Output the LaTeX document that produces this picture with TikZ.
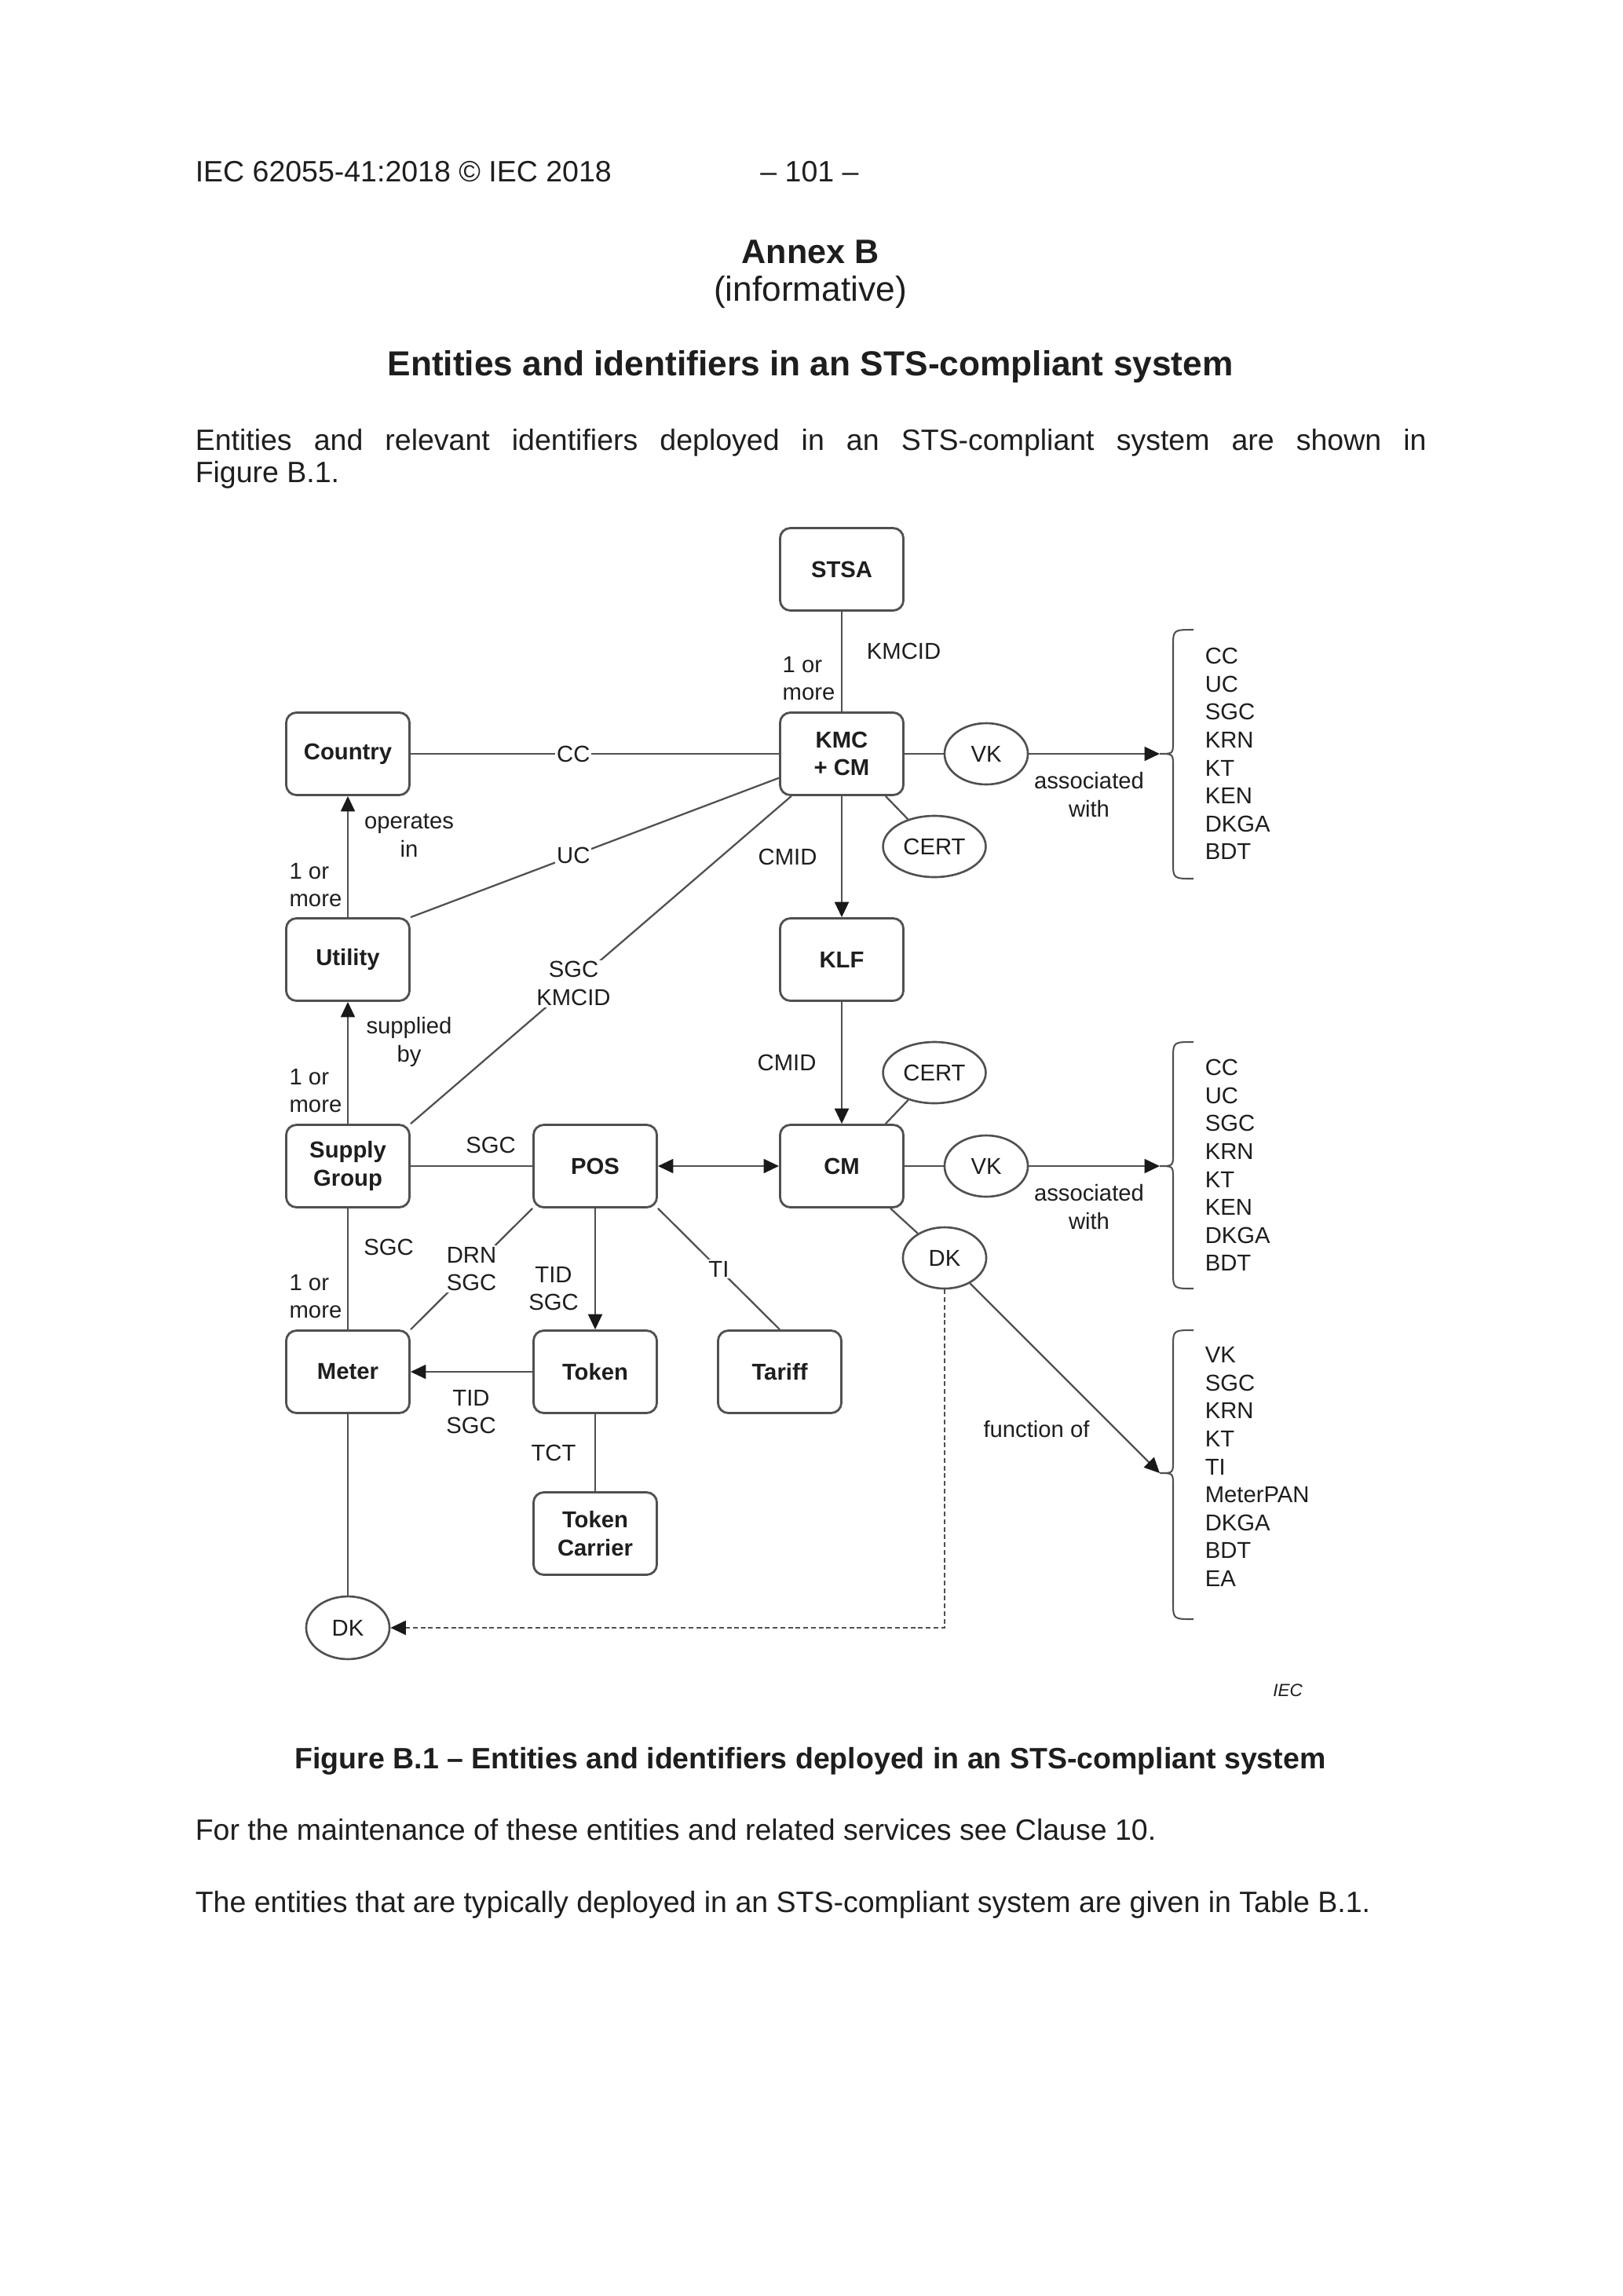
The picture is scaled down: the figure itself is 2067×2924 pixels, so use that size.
\documentclass[tikz,border=0pt]{standalone}
\usepackage{fontspec}
\setmainfont{Liberation Sans}
\usetikzlibrary{arrows.meta,shapes.geometric}
\definecolor{lc}{RGB}{80,80,80}
\definecolor{tc}{RGB}{30,30,30}
\tikzset{
 box/.style={draw=lc, line width=0.75pt, rounded corners=3.5pt, minimum width=41.9pt, minimum height=28pt, inner sep=0pt, align=center, font=\fontsize{7.8}{9.5}\selectfont\bfseries, text=tc},
 oval/.style={draw=lc, line width=0.7pt, ellipse, minimum width=28.3pt, minimum height=20.8pt, inner sep=0pt, font=\fontsize{7.8}{9.5}\selectfont, text=tc},
 lbl/.style={font=\fontsize{7.8}{9.5}\selectfont, align=center, inner sep=0.5pt, text=tc},
 cut/.style={lbl, fill=white},
 conn/.style={draw=lc, line width=0.6pt},
 tip/.style={-{Triangle[length=5.2pt,width=4.8pt,color=black!90]}},
 arr/.style={conn, tip},
 darr/.style={conn, {Triangle[length=5.2pt,width=4.8pt,color=black!90]}-{Triangle[length=5.2pt,width=4.8pt,color=black!90]}},
 dashline/.style={conn, dash pattern=on 1.6pt off 1pt},
 lst/.style={font=\fontsize{7.8}{9.5}\selectfont, align=left, anchor=west, inner sep=0pt, text=tc},
 body/.style={font=\fontsize{10}{11}\selectfont, inner sep=0pt, text=tc},
}
\def\mybrace#1#2#3{\draw[conn, line width=0.55pt] (1520,#1) .. controls (1494,#1) .. (1494,#1+22) -- (1494,#2-16) .. controls (1494,#2) .. (1477,#2) .. controls (1494,#2) .. (1494,#2+16) -- (1494,#3-22) .. controls (1494,#3) .. (1520,#3);}
\begin{document}
\begin{tikzpicture}[x=0.26667pt,y=-0.26667pt]
\path[use as bounding box, fill=white] (0,0) rectangle (2067,2924);

% page text
\node[body, anchor=base west] (hdr) at (248,231) {IEC 62055-41:2018 © IEC 2018};
\node[body, anchor=base] (pg) at (1031,231) {– 101 –};
\node[font=\fontsize{11.5}{13}\selectfont\bfseries, anchor=base, inner sep=0pt, text=tc] (annex) at (1032,335) {Annex B};
\node[font=\fontsize{11.8}{13}\selectfont, anchor=base, inner sep=0pt, text=tc] (inf) at (1032,383) {(informative)};
\node[font=\fontsize{11.8}{13}\selectfont\bfseries, anchor=base, inner sep=0pt, text=tc] (title) at (1032,478) {Entities and identifiers in an STS-compliant system};
\node[body, anchor=base west] (p1a) at (248,573) {\makebox[418.13pt][s]{Entities and relevant identifiers deployed in an STS-compliant system are shown in}};
\node[body, anchor=base west] (p1b) at (248,614) {Figure B.1.};
\node[body, font=\fontsize{10}{11}\selectfont\bfseries, anchor=base] (cap) at (1032,2252) {Figure B.1 – Entities and identifiers deployed in an STS-compliant system};
\node[body, anchor=base west] (p2) at (248,2343) {For the maintenance of these entities and related services see Clause 10.};
\node[body, anchor=base west] (p3) at (248,2435) {The entities that are typically deployed in an STS-compliant system are given in Table B.1.};

% boxes
\node[box] (STSA) at (1072,725) {STSA};
\node[box] (KMC) at (1072,960) {KMC\\+ CM};
\node[box] (Country) at (443,960) {Country};
\node[box] (Utility) at (443,1222) {Utility};
\node[box] (KLF) at (1072,1222) {KLF};
\node[box] (Supply) at (443,1485) {Supply\\Group};
\node[box] (POS) at (758,1485) {POS};
\node[box] (CM) at (1072,1485) {CM};
\node[box] (Meter) at (443,1747) {Meter};
\node[box] (Token) at (758,1747) {Token};
\node[box] (Tariff) at (993,1747) {Tariff};
\node[box] (Carrier) at (758,1953) {Token\\Carrier};

% ellipses
\node[oval] (VKa) at (1256,960) {VK};
\node[oval, minimum width=34.9pt] (CERTa) at (1190,1078) {CERT};
\node[oval, minimum width=34.9pt] (CERTb) at (1190,1366) {CERT};
\node[oval] (VKb) at (1256,1485) {VK};
\node[oval] (DKa) at (1203,1602) {DK};
\node[oval, minimum height=21.3pt] (DKb) at (443,2073) {DK};

% brace tips
\coordinate (ba) at (1477,960);
\coordinate (bb) at (1477,1485);
\coordinate (bc) at (1477,1876);

% connectors
\draw[conn] (STSA) -- (KMC);
\draw[conn] (Country) -- node[cut,pos=0.442]{CC} (KMC);
\draw[arr] (Utility) -- (Country);
\draw[conn] (Utility.north east) -- node[cut,pos=0.442]{UC} (KMC.201.5);
\draw[conn] (Supply.north east) -- node[cut,pos=0.428]{SGC\\KMCID} (KMC.220);
\draw[arr] (KMC) -- (KLF);
\draw[arr] (KLF) -- (CM);
\draw[conn] (KMC) -- (VKa);
\draw[arr] (VKa) -- (ba);
\draw[conn] (KMC.316) -- (CERTa);
\draw[conn] (CM.44) -- (CERTb);
\draw[conn] (CM) -- (VKb);
\draw[arr] (VKb) -- (bb);
\draw[conn] (CM.319) -- (DKa);
\draw[arr] (DKa) -- (bc);
\draw[dashline, tip] (DKa.south) |- (DKb);
\draw[arr] (Supply) -- (Utility);
\draw[conn] (Supply) -- (POS);
\draw[darr] (POS) -- (CM);
\draw[conn] (Supply) -- (Meter);
\draw[conn] (Meter) -- (DKb);
\draw[conn] (POS.south west) -- node[cut,pos=0.5]{DRN\\SGC} (Meter.north east);
\draw[arr] (POS) -- (Token);
\draw[conn] (POS.south east) -- node[cut,pos=0.5]{TI} (Tariff.north);
\draw[arr] (Token) -- (Meter);
\draw[conn] (Token) -- (Carrier);

% free labels
\node[lbl] (lKMCID) at (1151,829) {KMCID};
\node[lbl, align=left, anchor=west] (lOneA) at (994,864) {1 or\\more};
\node[lbl] (lOperates) at (521,1064) {operates\\in};
\node[lbl, align=left, anchor=west] (lOneB) at (366,1127) {1 or\\more};
\node[lbl] (lCMIDa) at (1003,1091) {CMID};
\node[lbl] (lCMIDb) at (1002,1353) {CMID};
\node[lbl] (lAssocA) at (1387,1012) {associated\\with};
\node[lbl] (lAssocB) at (1387,1537) {associated\\with};
\node[lbl] (lSupplied) at (521,1327) {supplied\\by};
\node[lbl, align=left, anchor=west] (lOneC) at (366,1389) {1 or\\more};
\node[lbl] (lSGCa) at (625,1458) {SGC};
\node[lbl] (lSGCb) at (495,1588) {SGC};
\node[lbl, align=left, anchor=west] (lOneD) at (366,1651) {1 or\\more};
\node[lbl] (lTIDa) at (705,1641) {TID\\SGC};
\node[lbl] (lTIDb) at (600,1798) {TID\\SGC};
\node[lbl] (lTCT) at (705,1850) {TCT};
\node[lbl] (lFunc) at (1320,1820) {function of};
\node[font=\fontsize{6}{7}\selectfont\itshape, text=tc, inner sep=0pt] (iec) at (1640,2153) {IEC};

% lists
\node[lst] (listA) at (1534,960) {CC\\UC\\SGC\\KRN\\KT\\KEN\\DKGA\\BDT};
\node[lst] (listB) at (1534,1484) {CC\\UC\\SGC\\KRN\\KT\\KEN\\DKGA\\BDT};
\node[lst] (listC) at (1534,1868) {VK\\SGC\\KRN\\KT\\TI\\MeterPAN\\DKGA\\BDT\\EA};

% braces
\mybrace{802}{960}{1119}
\mybrace{1327}{1485}{1641}
\mybrace{1694}{1876}{2062}
\end{tikzpicture}
\end{document}
